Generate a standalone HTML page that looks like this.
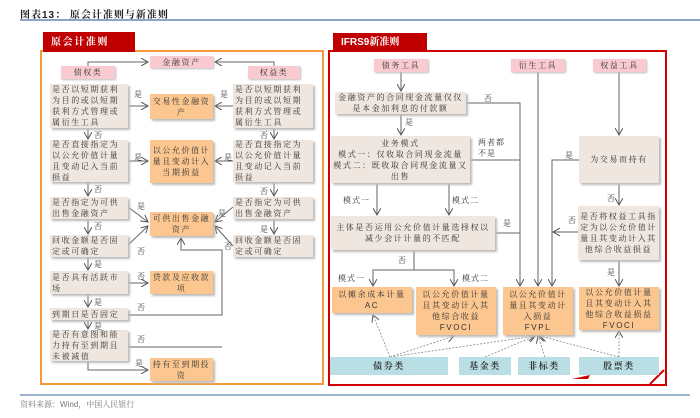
<!DOCTYPE html>
<html><head><meta charset="utf-8"><style>
body{margin:0;width:700px;height:418px;background:#fff;position:relative;overflow:hidden;font-family:"Liberation Sans","Noto Serif CJK SC","Noto Sans CJK SC",sans-serif;color:#333}
.b{position:absolute;display:flex;align-items:center;justify-content:center;text-align:center;font-size:8px;line-height:11px;box-sizing:border-box;padding:1px 2px;letter-spacing:1.6px}
.g{background:#efe7df;box-shadow:2px 2px 2px #bbb;text-align:left;justify-content:flex-start}
.gc{background:#efe7df;box-shadow:2px 2px 2px #bbb}
.o{background:#fbc68f;box-shadow:2px 2px 2px #bbb}
.p{background:#f9cbd0;box-shadow:1px 1px 2px #bbb}
.c{background:#b9dfe4;font-size:9px;font-weight:bold}
.t{position:absolute;font-size:8px;color:#333;letter-spacing:1px}
svg{position:absolute;left:0;top:0}
</style></head><body>
<div class="t" style="left:20px;top:6px;font-size:10px;font-weight:bold;color:#222">图表13：&nbsp;原会计准则与新准则</div>
<div style="position:absolute;left:20px;top:19px;width:680px;height:2px;background:#8ea4c4"></div>
<div style="position:absolute;left:20px;top:394px;width:670px;height:2px;background:#9fb2cf"></div>
<div class="t" style="left:20px;top:399px;color:#777;letter-spacing:0">资料来源：Wind，中国人民银行</div>

<div style="position:absolute;left:40px;top:50px;width:280px;height:331px;border:2px solid #f59a3c"></div>
<div class="b" style="left:43px;top:32px;width:92px;height:20px;background:#c00000;color:#fff;font-size:10px;font-weight:bold;justify-content:flex-start;padding-left:8px">原会计准则</div>
<div style="position:absolute;left:328px;top:50px;width:335px;height:332px;border:2px solid #d00000"></div>
<div class="b" style="left:333px;top:33px;width:94px;height:19px;background:#c00000;color:#fff;font-size:10px;font-weight:bold;justify-content:flex-start;padding-left:8px;letter-spacing:0">IFRS9新准则</div>

<svg width="700" height="418">
<defs>
<marker id="a" markerWidth="8" markerHeight="8" refX="7" refY="4" orient="auto" markerUnits="userSpaceOnUse"><path d="M0,0L7,4L0,8" fill="none" stroke="#555" stroke-width="1"/></marker>
</defs>
<g stroke="#666" stroke-width="1" fill="none">
<path d="M88,66V62H148" marker-end="url(#a)"/>
<path d="M274,66V62H215" marker-end="url(#a)"/>
<path d="M128,106H148" marker-end="url(#a)"/>
<path d="M233,106H215" marker-end="url(#a)"/>
<path d="M88,128V139" marker-end="url(#a)"/>
<path d="M274,128V139" marker-end="url(#a)"/>
<path d="M128,161H148" marker-end="url(#a)"/>
<path d="M233,161H215" marker-end="url(#a)"/>
<path d="M88,182V196" marker-end="url(#a)"/>
<path d="M274,182V196" marker-end="url(#a)"/>
<path d="M128,207L148,222" marker-end="url(#a)"/>
<path d="M233,207L215,222" marker-end="url(#a)"/>
<path d="M128,245L148,226" marker-end="url(#a)"/>
<path d="M233,246L215,226" marker-end="url(#a)"/>
<path d="M88,219V234" marker-end="url(#a)"/>
<path d="M274,219V234" marker-end="url(#a)"/>
<path d="M88,257V270" marker-end="url(#a)"/>
<path d="M128,283H148" marker-end="url(#a)"/>
<path d="M88,294V307" marker-end="url(#a)"/>
<path d="M88,320V329" marker-end="url(#a)"/>
<path d="M128,315H222V250H181V238" marker-end="url(#a)"/>
<path d="M128,347H222"/>
<path d="M88,361V370H148" marker-end="url(#a)"/>
<path d="M401,72V91" marker-end="url(#a)"/>
<path d="M401,114V135" marker-end="url(#a)"/>
<path d="M466,103H520V286" marker-end="url(#a)"/>
<path d="M470,160H520"/>
<path d="M495,233H520"/>
<path d="M538,72V286" marker-end="url(#a)"/>
<path d="M619,72V135" marker-end="url(#a)"/>
<path d="M579,160H552V286" marker-end="url(#a)"/>
<path d="M578,232H553" marker-end="url(#a)"/>
<path d="M619,183V205" marker-end="url(#a)"/>
<path d="M619,260V286" marker-end="url(#a)"/>
<path d="M377,183V215" marker-end="url(#a)"/>
<path d="M449,183V215" marker-end="url(#a)"/>
<path d="M414,250V270H373V286" marker-end="url(#a)"/>
<path d="M414,270H454V286" marker-end="url(#a)"/>
</g>
<g stroke="#888" stroke-width="0.8" fill="none" stroke-dasharray="2,1.5">
<path d="M390,357L373,315" marker-end="url(#a)"/>
<path d="M390,357L454,336" marker-end="url(#a)"/>
<path d="M390,357L535,336" marker-end="url(#a)"/>
<path d="M485,357L535,336" marker-end="url(#a)"/>
<path d="M545,357L538,336" marker-end="url(#a)"/>
<path d="M619,357L540,336" marker-end="url(#a)"/>
<path d="M619,357V331" marker-end="url(#a)"/>
</g>
<path d="M572,379L590,375L588,379Z" fill="#d00000"/>
<path d="M650,384L664,370" stroke="#d00000" stroke-width="2"/>
</svg>

<div class="b p" style="left:150px;top:56px;width:63px;height:12px">金融资产</div>
<div class="b p" style="left:61px;top:66px;width:54px;height:13px">债权类</div>
<div class="b p" style="left:248px;top:66px;width:52px;height:13px">权益类</div>
<div class="b g" style="left:50px;top:84px;width:78px;height:44px">是否以短期获利为目的或以短期获利方式管理或属衍生工具</div>
<div class="b g" style="left:233px;top:84px;width:80px;height:44px">是否以短期获利为目的或以短期获利方式管理或属衍生工具</div>
<div class="b o" style="left:150px;top:94px;width:63px;height:25px">交易性金融资产</div>
<div class="b g" style="left:50px;top:140px;width:78px;height:42px">是否直接指定为以公允价值计量且变动记入当前损益</div>
<div class="b g" style="left:233px;top:140px;width:80px;height:42px">是否直接指定为以公允价值计量且变动记入当前损益</div>
<div class="b o" style="left:150px;top:140px;width:63px;height:43px">以公允价值计量且变动计入当期损益</div>
<div class="b g" style="left:50px;top:197px;width:78px;height:22px">是否指定为可供出售金融资产</div>
<div class="b g" style="left:233px;top:197px;width:80px;height:22px">是否指定为可供出售金融资产</div>
<div class="b o" style="left:150px;top:212px;width:63px;height:24px">可供出售金融资产</div>
<div class="b g" style="left:50px;top:235px;width:78px;height:22px">回收金额是否固定或可确定</div>
<div class="b g" style="left:233px;top:235px;width:80px;height:22px">回收金额是否固定或可确定</div>
<div class="b g" style="left:50px;top:271px;width:78px;height:23px">是否具有活跃市场</div>
<div class="b o" style="left:150px;top:271px;width:63px;height:23px">贷款及应收款项</div>
<div class="b g" style="left:50px;top:308px;width:78px;height:12px">到期日是否固定</div>
<div class="b g" style="left:50px;top:330px;width:78px;height:31px">是否有意图和能力持有至到期且未被减值</div>
<div class="b o" style="left:150px;top:358px;width:63px;height:23px">持有至到期投资</div>
<div class="t" style="left:134px;top:89px">是</div><div class="t" style="left:220px;top:89px">是</div>
<div class="t" style="left:94px;top:130px">否</div><div class="t" style="left:260px;top:130px">否</div>
<div class="t" style="left:134px;top:152px">是</div><div class="t" style="left:224px;top:152px">是</div>
<div class="t" style="left:94px;top:184px">否</div><div class="t" style="left:260px;top:186px">否</div>
<div class="t" style="left:137px;top:201px">是</div><div class="t" style="left:218px;top:208px">是</div>
<div class="t" style="left:94px;top:221px">否</div><div class="t" style="left:260px;top:224px">是</div>
<div class="t" style="left:137px;top:246px">否</div><div class="t" style="left:224px;top:241px">否</div>
<div class="t" style="left:94px;top:259px">是</div><div class="t" style="left:137px;top:271px">否</div>
<div class="t" style="left:94px;top:297px">是</div><div class="t" style="left:137px;top:302px">否</div>
<div class="t" style="left:94px;top:321px">是</div><div class="t" style="left:137px;top:334px">否</div>
<div class="t" style="left:135px;top:358px">是</div>

<div class="b p" style="left:374px;top:59px;width:54px;height:13px">债务工具</div>
<div class="b p" style="left:511px;top:59px;width:54px;height:13px">衍生工具</div>
<div class="b p" style="left:593px;top:59px;width:53px;height:13px">权益工具</div>
<div class="b gc" style="left:335px;top:92px;width:131px;height:22px">金融资产的合同现金流量仅仅是本金加利息的付款额</div>
<div class="b gc" style="left:331px;top:136px;width:139px;height:47px">业务模式<br>模式一：仅收取合同现金流量<br>模式二：既收取合同现金流量又出售</div>
<div class="b gc" style="left:579px;top:136px;width:80px;height:47px">为交易而持有</div>
<div class="b gc" style="left:331px;top:216px;width:164px;height:34px">主体是否运用公允价值计量选择权以减少会计计量的不匹配</div>
<div class="b gc" style="left:578px;top:206px;width:81px;height:54px">是否将权益工具指定为以公允价值计量且其变动计入其他综合收益损益</div>
<div class="b o" style="left:332px;top:287px;width:80px;height:26px">以摊余成本计量<br>AC</div>
<div class="b o" style="left:416px;top:287px;width:80px;height:48px">以公允价值计量且其变动计入其他综合收益<br>FVOCI</div>
<div class="b o" style="left:503px;top:287px;width:70px;height:48px">以公允价值计量且其变动计入损益<br>FVPL</div>
<div class="b o" style="left:579px;top:287px;width:80px;height:43px">以公允价值计量且其变动计入其他综合收益损益<br>FVOCI</div>
<div class="b c" style="left:330px;top:357px;width:118px;height:18px">债券类</div>
<div class="b c" style="left:459px;top:357px;width:52px;height:18px">基金类</div>
<div class="b c" style="left:518px;top:357px;width:52px;height:18px">非标类</div>
<div class="b c" style="left:579px;top:357px;width:80px;height:18px">股票类</div>
<div class="t" style="left:484px;top:93px">否</div>
<div class="t" style="left:405px;top:117px">是</div>
<div class="t" style="left:478px;top:137px;line-height:11px">两者都<br>不是</div>
<div class="t" style="left:565px;top:150px">是</div>
<div class="t" style="left:343px;top:195px">模式一</div>
<div class="t" style="left:452px;top:195px">模式二</div>
<div class="t" style="left:503px;top:218px">是</div>
<div class="t" style="left:568px;top:215px">否</div>
<div class="t" style="left:607px;top:193px">否</div>
<div class="t" style="left:607px;top:267px">是</div>
<div class="t" style="left:398px;top:255px">否</div>
<div class="t" style="left:338px;top:273px">模式一</div>
<div class="t" style="left:462px;top:273px">模式二</div>
</body></html>
